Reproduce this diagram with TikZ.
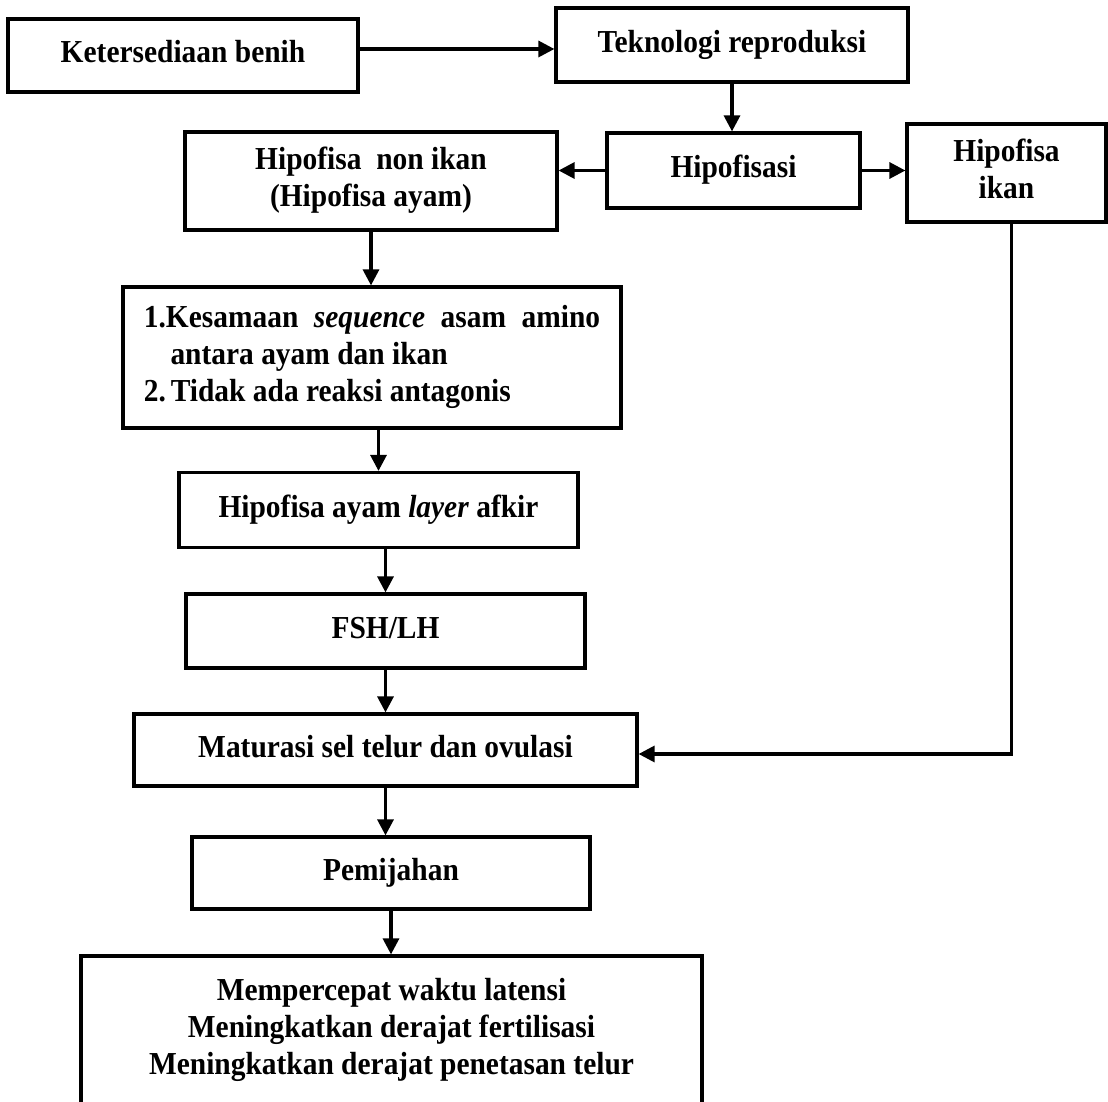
\documentclass[tikz,border=0pt]{standalone}
\usepackage{fontspec}
\usepackage{graphicx}
\setmainfont{Liberation Serif}
\usetikzlibrary{arrows.meta}
\newcommand{\tx}[2][c]{\scalebox{0.92}[1]{\begin{tabular}{@{}#1@{}}#2\end{tabular}}}
\tikzset{
  box/.style={draw, line width=3.2pt, inner sep=0pt,
    font=\fontsize{32}{37}\selectfont\bfseries},
  arr/.style={line width=3.2pt, -{Triangle[length=16pt,width=16pt]}},
}
\begin{document}
\begin{tikzpicture}[x=1pt,y=-1pt]
\useasboundingbox (0,0) rectangle (1108,1102);
\node[box, minimum width=350pt, minimum height=73pt] (Ket) at (183,55.5) {\tx{Ketersediaan benih}};
\node[box, minimum width=352pt, minimum height=74pt] (Tek) at (732,45) {\tx{Teknologi reproduksi}};
\node[box, minimum width=253pt, minimum height=75pt] (Hips) at (733.5,170.5) {\tx{Hipofisasi}};
\node[box, minimum width=372pt, minimum height=98pt] (Nik) at (371,181) {\tx{Hipofisa~~non ikan\\(Hipofisa ayam)}};
\node[box, minimum width=199pt, minimum height=98pt] (Ikan) at (1006.5,173) {\tx{Hipofisa\\ikan}};
\node[box, minimum width=498pt, minimum height=141pt] (List) at (372,357.5)
  {\tx[l]{\makebox[496pt][s]{1.Kesamaan \textit{sequence} asam amino}\\
   \hspace*{29pt}antara ayam dan ikan\\
   2.\,Tidak ada reaksi antagonis}};
\node[box, minimum width=399pt, minimum height=75pt] (Lay) at (378.5,510) {\tx{Hipofisa ayam \textit{layer} afkir}};
\node[box, minimum width=399pt, minimum height=74pt] (FSH) at (385.5,631) {\tx{FSH/LH}};
\node[box, minimum width=503pt, minimum height=72pt] (Mat) at (385.5,750) {\tx{Maturasi sel telur dan ovulasi}};
\node[box, minimum width=398pt, minimum height=72pt] (Pem) at (391,873) {\tx{Pemijahan}};
\node[box, minimum width=621pt, minimum height=148pt] (Fin) at (391.5,1030)
  {\tx{Mempercepat waktu latensi\\Meningkatkan derajat fertilisasi\\Meningkatkan derajat penetasan telur}};

\draw[arr] ([yshift=6.5pt]Ket.east) -- ([yshift=6.5pt]Ket.east -| Tek.west);
\draw[arr] (Tek.south) -- (Tek.south |- Hips.north);
\draw[arr] (Hips.west) -- (Hips.west -| Nik.east);
\draw[arr] (Hips.east) -- (Hips.east -| Ikan.west);
\draw[arr] (Nik.south) -- (Nik.south |- List.north);
\draw[arr] (Lay.north |- List.south) -- (Lay.north);
\draw[arr] (FSH.north |- Lay.south) -- (FSH.north);
\draw[arr] (Mat.north |- FSH.south) -- (Mat.north);
\draw[arr] (Mat.south) -- (Mat.south |- Pem.north);
\draw[arr] (Pem.south) -- (Pem.south |- Fin.north);
\draw[arr] ([xshift=5pt]Ikan.south) |- ([yshift=-4pt]Mat.east);
\end{tikzpicture}
\end{document}
